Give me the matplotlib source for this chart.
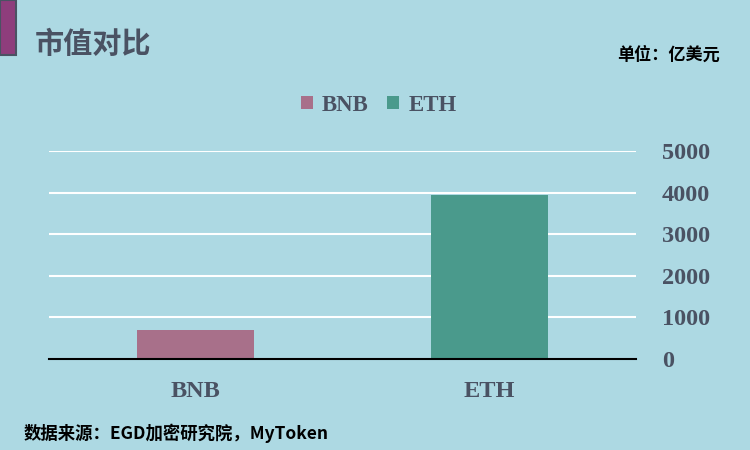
import matplotlib.pyplot as plt
from matplotlib.patches import Rectangle

categories = ["BNB", "ETH"]
values = [700, 3940]
colors = ["#a8708a", "#4a9a8c"]
yticks = [0, 1000, 2000, 3000, 4000, 5000]

BG = "#add9e3"
TXT = "#4a5263"
CJK = ["Noto Sans CJK SC", "DejaVu Sans"]
SERIF = ["Liberation Serif", "DejaVu Serif"]

fig = plt.figure(figsize=(7.5, 4.5), dpi=100, facecolor=BG)
ax = fig.add_axes([0.0653, 0.2022, 0.7827, 0.4622], facecolor=BG)

bars = ax.bar(range(len(categories)), values, width=0.4, color=colors, zorder=3)
ax.set_xlim(-0.5, 1.5)
ax.set_ylim(0, 5000)
ax.set_yticks(yticks)
ax.yaxis.tick_right()
ax.grid(axis="y", color="white", lw=1.5, zorder=1)
ax.tick_params(length=0)
ax.tick_params(axis="y", pad=18.5)
ax.set_yticklabels([str(v) for v in yticks], family=SERIF, fontsize=17.5,
                   fontweight="bold", color=TXT)
ax.set_xticks(range(len(categories)))
ax.set_xticklabels(categories, family=SERIF, fontsize=17.5, fontweight="bold", color=TXT)
ax.tick_params(axis="x", pad=16)
for s in ["top", "left", "right"]:
    ax.spines[s].set_visible(False)
ax.spines["bottom"].set_color("black")
ax.spines["bottom"].set_linewidth(1.5)
ax.spines["bottom"].set_zorder(4)

leg = fig.legend(bars, categories, loc="center", bbox_to_anchor=(0.505, 0.766), ncol=2,
                 frameon=False, handlelength=0.53, handleheight=0.53, handletextpad=0.4,
                 columnspacing=0.8, prop={"family": SERIF, "size": 16.5, "weight": "bold"})
for t in leg.get_texts():
    t.set_color(TXT)

# purple block on the left edge
fig.patches.append(Rectangle((0, 1 - 55 / 450), 16 / 750, 55 / 450, transform=fig.transFigure,
                             facecolor="#8e3d7c", edgecolor="#4a5263", lw=1.5))

fig.text(0.047, 0.903, "市值对比", family=CJK, fontsize=21, fontweight="bold",
         color=TXT, va="center")
fig.text(0.96, 0.878, "单位：亿美元", family=CJK, fontsize=12.3, fontweight="bold",
         color="black", ha="right", va="center")
fig.text(0.032, 0.038, "数据来源：EGD加密研究院，MyToken", family=CJK, fontsize=12.5,
         fontweight="bold", color="black", va="center")

fig.savefig("out.png", dpi=100, facecolor=BG)
